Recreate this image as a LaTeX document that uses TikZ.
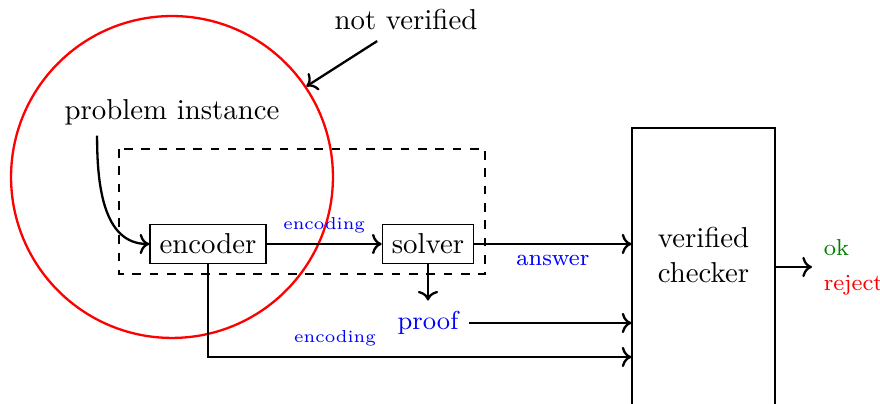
\documentclass[tikz,border=0pt]{standalone}
\usepackage{amsmath}
\usepackage{tikz}
\usetikzlibrary{
    positioning,
    arrows.meta
}
\tikzset{
    block/.style={
        draw,
        thin,
        inner sep=3.33pt
    },
    tag/.style={
        font=\fontsize{6}{7}\selectfont,
        text=blue
    }
}

\begin{document}
\begin{tikzpicture}[
    x=0.347pt,
    y=-0.347pt,
    thick
]
    \useasboundingbox (0,0) rectangle (880,404);

    % Nodos
    \node[circle, draw=red, minimum size=111.7pt, inner sep=0pt] (scope) at (172,177) {};
    \node (nv) at (406,20) {not verified};
    \node (prob) at (172,112) {problem instance};
    \node[block] (encoder) at (208,244) {encoder};
    \node[block] (solver) at (428,244) {solver};
    \node[text=blue, font=\small] (proof) at (428,323) {proof};
    \node[block, minimum width=49.6pt, minimum height=96.5pt] (checker) at (703.5,267) {};
    \node[align=center] (checktext) at ([yshift=4.2pt]checker.center) {verified\\checker};
    \coordinate (low) at (208,357);
    \coordinate (out) at (812,267);
    \node[anchor=west, font=\footnotesize, text=green!50!black] (ok) at (813,248) {ok};
    \node[anchor=west, font=\footnotesize, text=red] (reject) at (813,285) {reject};

    % Caja
    \draw[thin, dashed] (119,149) rectangle (485,274);

    % Flechas
    \draw[->] ([xshift=-10pt]nv.south) -- (scope.34);
    \draw[->] ([xshift=-26pt]prob.south) to[out=-90, in=180] (encoder.west);
    \draw[->] (encoder) -- node[tag, above]{encoding} (solver);
    \draw[->] (solver.east) -- node[below, font=\footnotesize, text=blue]{answer} (solver.east -| checker.west);
    \draw[->] (solver) -- (proof);
    \draw[->] (proof.east) -- (proof.east -| checker.west);
    \draw[->] (encoder.south) -- (low) -- node[tag, above, pos=0.3]{encoding} (low -| checker.west);
    \draw[->] (checker.east) -- (out);

\end{tikzpicture}
\end{document}
